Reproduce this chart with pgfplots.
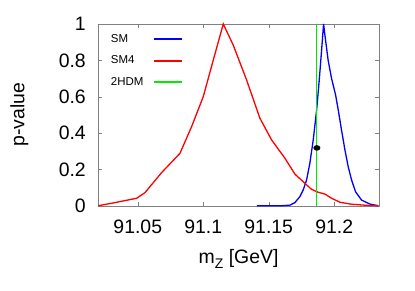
\documentclass[border=0pt]{standalone}
\usepackage{pgfplots}
\pgfplotsset{compat=1.18}
\usepackage{fontspec}
\setmainfont{Liberation Sans}
\definecolor{gpblue}{RGB}{0,0,255}
\definecolor{gpred}{RGB}{255,0,0}
\definecolor{gpgreen}{RGB}{0,235,0}
\begin{document}
\begin{tikzpicture}
\begin{axis}[
  at={(0,0)}, anchor=south west,
  scale only axis,
  width=280.2bp, height=181.7bp,
  xmin=91.02, xmax=91.234,
  ymin=0, ymax=1,
  clip=false,
  axis line style={gray},
  tick style={gray},
  major tick length=4bp,
  tick align=inside,
  xtick={91.05,91.1,91.15,91.2},
  xticklabels={91.05,91.1,91.15,91.2},
  ytick={0,0.2,0.4,0.6,0.8,1},
  yticklabels={0,0.2,0.4,0.6,0.8,1},
  tick label style={font=\fontsize{19.5}{22}\selectfont, black},
  xticklabel style={inner sep=0pt, yshift=-14.3bp},
  yticklabel style={inner sep=0pt, xshift=-12.5bp},
  xlabel={m\raisebox{-0.4ex}{\fontsize{14}{14}\selectfont Z} [GeV]},
  ylabel={p-value},
  label style={font=\fontsize{19.5}{22}\selectfont},
  xlabel style={at={(axis description cs:0.5,0)}, anchor=center, inner sep=0pt, yshift=-53.3bp},
  ylabel style={at={(axis description cs:0,0.5)}, anchor=center, inner sep=0pt, yshift=79.2bp},
  legend plot pos=right,
  legend style={at={(axis description cs:0,1)}, anchor=north west,
    xshift=12.2bp, yshift=-10.4bp, draw=none, fill=none, inner sep=0pt,
    font=\fontsize{11.5}{13}\selectfont,
    row sep=11.8bp, column sep=9.7bp,
    cells={anchor=west}, nodes={inner sep=0pt}},
]
\addlegendimage{legend image code/.code={\draw[gpblue, line width=2bp] (0bp,0bp) -- (28bp,0bp);}}
\addlegendentry{SM}
\addlegendimage{legend image code/.code={\draw[gpred, line width=2bp] (0bp,0bp) -- (28bp,0bp);}}
\addlegendentry{SM4}
\addlegendimage{legend image code/.code={\draw[gpgreen, line width=2bp] (0bp,0bp) -- (28bp,0bp);}}
\addlegendentry{2HDM}
\addplot[gpblue, line width=1.3bp, forget plot] coordinates {
(91.141,0) (91.160,0.0) (91.1662,0.003) (91.170,0.017) (91.1738,0.05)
(91.1763,0.086) (91.1789,0.141) (91.1814,0.233) (91.184,0.362) (91.1866,0.527)
(91.1886,0.692) (91.1904,0.857) (91.1919,1.0) (91.1934,0.912) (91.1954,0.80)
(91.198,0.70) (91.2011,0.609) (91.2031,0.527) (91.2056,0.417) (91.2082,0.307)
(91.2107,0.215) (91.2133,0.141) (91.2163,0.077) (91.2209,0.031) (91.2273,0.009)
(91.2336,0)
};
\addplot[gpred, line width=1.3bp, forget plot] coordinates {
(91.02,0) (91.0326,0.017) (91.0492,0.041) (91.0555,0.072) (91.0682,0.182)
(91.0822,0.288) (91.0911,0.435) (91.100,0.60)
(91.1076,0.80) (91.1153,1.0) (91.1229,0.884) (91.1331,0.692) (91.1433,0.481)
(91.1522,0.362) (91.1624,0.261) (91.170,0.174) (91.1763,0.132) (91.1827,0.09)
(91.1878,0.074) (91.1929,0.064) (91.198,0.041) (91.2044,0.019) (91.2133,0.008)
(91.225,0.002) (91.234,0)
};
\addplot[gpgreen, line width=1bp, forget plot] coordinates {(91.1868,0) (91.1868,1)};
\addplot[only marks, mark=*, black, mark size=2.5bp, mark options={xscale=1.3}, forget plot] coordinates {(91.1868,0.318)};
\end{axis}
\pgfresetboundingbox
\path[use as bounding box] (-98.5bp,-85.3bp) rectangle (316.5bp,205.7bp);
\end{tikzpicture}
\end{document}
